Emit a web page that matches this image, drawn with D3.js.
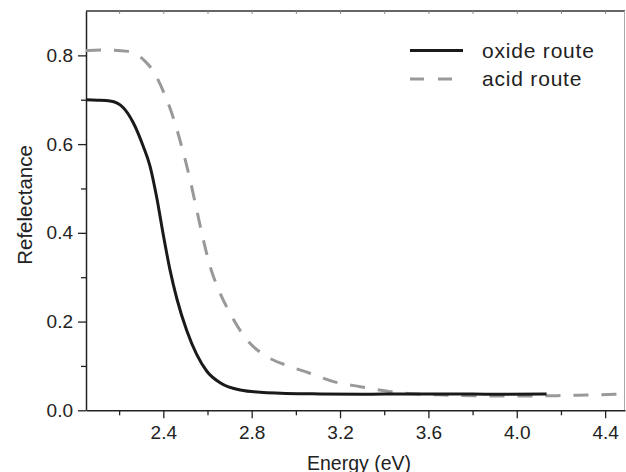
<!DOCTYPE html>
<html>
<head>
<meta charset="utf-8">
<script src="https://cdn.jsdelivr.net/npm/d3@7"></script>
<style>
  body { margin: 0; background: #fff; }
  text { font-family: Arial, "Liberation Sans", sans-serif; fill: #222; }
</style>
</head>
<body>
<svg id="chart" width="626" height="472"></svg>
<script>
const width = 626;
const height = 472;
const margin = { top: 11, right: 1, bottom: 61.7, left: 86 };

// oxide route (solid black)
const oxideEnergy = [2.05, 2.10, 2.159, 2.219, 2.264, 2.309, 2.34, 2.37, 2.40, 2.43, 2.461, 2.506, 2.551, 2.597, 2.657, 2.748, 2.869, 3.11, 3.3, 3.5, 3.7, 3.9, 4.135];
const oxideRefl = [0.700, 0.699, 0.697, 0.682, 0.648, 0.595, 0.55, 0.48, 0.395, 0.317, 0.252, 0.180, 0.126, 0.088, 0.062, 0.0458, 0.0397, 0.0368, 0.036, 0.037, 0.037, 0.036, 0.037];

// acid route (dashed grey)
const acidEnergy = [2.05, 2.15, 2.241, 2.317, 2.355, 2.40, 2.438, 2.483, 2.521, 2.551, 2.574, 2.612, 2.657, 2.702, 2.778, 2.869, 2.974, 3.06, 3.171, 3.292, 3.428, 3.549, 3.669, 3.805, 3.926, 4.062, 4.183, 4.319, 4.49];
const acidRefl = [0.811, 0.812, 0.809, 0.787, 0.764, 0.719, 0.670, 0.595, 0.520, 0.452, 0.400, 0.324, 0.264, 0.219, 0.159, 0.121, 0.0985, 0.084, 0.0646, 0.0533, 0.042, 0.0368, 0.0345, 0.033, 0.0323, 0.0323, 0.033, 0.0345, 0.0368];

const xMajor = [2.4, 2.8, 3.2, 3.6, 4.0, 4.4];
const xMinor = [2.2, 2.6, 3.0, 3.4, 3.8, 4.2];
const yMajor = [0.0, 0.2, 0.4, 0.6, 0.8];
const yMinor = [0.1, 0.3, 0.5, 0.7];

const legendLabels = ["oxide route", "acid route"];

const svg = d3.select("#chart");

const x = d3.scaleLinear().domain([2.05, 4.49]).range([margin.left, width - margin.right]);
const y = d3.scaleLinear().domain([0, 0.9]).range([height - margin.bottom, margin.top]);

// frame: top dark, right light
svg.append("line")
    .attr("x1", margin.left).attr("x2", width - margin.right)
    .attr("y1", margin.top).attr("y2", margin.top)
    .attr("stroke", "#333").attr("stroke-width", 1.5);
svg.append("line")
    .attr("x1", width - margin.right - 0.5).attr("x2", width - margin.right - 0.5)
    .attr("y1", margin.top).attr("y2", height - margin.bottom)
    .attr("stroke", "#aaa").attr("stroke-width", 1);

// top small ticks
svg.append("g")
    .attr("transform", `translate(0, ${margin.top})`)
    .call(d3.axisTop(x).tickValues(xMajor.concat(xMinor)).tickSize(-3).tickFormat(""))
    .call(g => g.select(".domain").remove())
    .call(g => g.selectAll("line").attr("stroke", "#888"));

// bottom axis
const xAxis = svg.append("g")
    .attr("transform", `translate(0, ${height - margin.bottom})`);
xAxis.call(d3.axisBottom(x).tickValues(xMinor).tickSize(5).tickFormat(""))
    .call(g => g.select(".domain").remove());
xAxis.append("g")
    .call(d3.axisBottom(x).tickValues(xMajor).tickSize(8).tickSizeOuter(0).tickPadding(7).tickFormat(d3.format(".1f")))
    .call(g => g.selectAll("text").attr("font-size", "19px").attr("fill", "#222").attr("font-family", "Arial, 'Liberation Sans', sans-serif"));
xAxis.selectAll("line").attr("stroke", "#222").attr("stroke-width", 1.3);
xAxis.selectAll(".domain").attr("stroke", "#222").attr("stroke-width", 1.5);

// left axis
const yAxis = svg.append("g")
    .attr("transform", `translate(${margin.left}, 0)`);
yAxis.call(d3.axisLeft(y).tickValues(yMinor).tickSize(5).tickFormat(""))
    .call(g => g.select(".domain").remove());
yAxis.append("g")
    .call(d3.axisLeft(y).tickValues(yMajor).tickSize(8).tickSizeOuter(0).tickPadding(5).tickFormat(d3.format(".1f")))
    .call(g => g.selectAll("text").attr("font-size", "19px").attr("fill", "#222").attr("font-family", "Arial, 'Liberation Sans', sans-serif"));
yAxis.selectAll("line").attr("stroke", "#222").attr("stroke-width", 1.3);
yAxis.selectAll(".domain").attr("stroke", "#222").attr("stroke-width", 1.5);

// axis titles
svg.append("text")
    .attr("x", 359)
    .attr("y", 470)
    .attr("text-anchor", "middle")
    .attr("font-size", "19.5px")
    .text("Energy (eV)");

svg.append("text")
    .attr("transform", "translate(32, 205) rotate(-90)")
    .attr("text-anchor", "middle")
    .attr("font-size", "20.5px")
    .text("Refelectance");

// curves
const line = d3.line()
    .x(d => x(d[0]))
    .y(d => y(d[1]))
    .curve(d3.curveMonotoneX);

svg.append("path")
    .datum(d3.zip(acidEnergy, acidRefl))
    .attr("fill", "none")
    .attr("stroke", "#999")
    .attr("stroke-width", 3)
    .attr("stroke-dasharray", "15,13")
    .attr("d", line);

svg.append("path")
    .datum(d3.zip(oxideEnergy, oxideRefl))
    .attr("fill", "none")
    .attr("stroke", "#1a1a1a")
    .attr("stroke-width", 3)
    .attr("d", line);

// legend
const legend = svg.append("g");
const legendStyles = [
    { stroke: "#1a1a1a", dash: null },
    { stroke: "#999", dash: "14,14" }
];
legendLabels.forEach(function (label, i) {
    const ly = 50.5 + i * 28.5;
    legend.append("line")
        .attr("x1", 410).attr("x2", 463)
        .attr("y1", ly).attr("y2", ly)
        .attr("stroke", legendStyles[i].stroke)
        .attr("stroke-width", 3)
        .attr("stroke-dasharray", legendStyles[i].dash);
    legend.append("text")
        .attr("x", 482)
        .attr("y", ly + 7)
        .attr("font-size", "21px")
        .attr("letter-spacing", "0.8px")
        .text(label);
});
</script>
</body>
</html>
